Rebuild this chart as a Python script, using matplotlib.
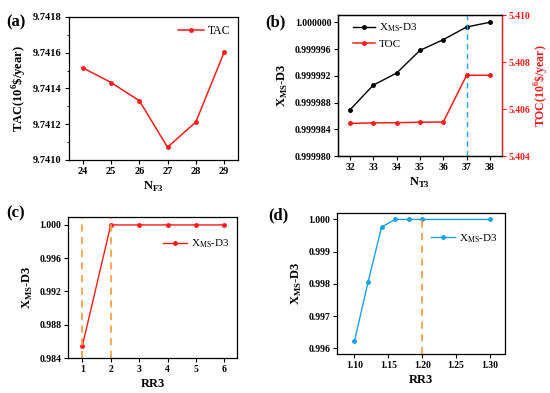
import numpy as np
import matplotlib
matplotlib.use("Agg")
import matplotlib.pyplot as plt
from matplotlib.ticker import MultipleLocator, FormatStrFormatter

plt.rcParams["font.family"] = ["Liberation Serif", "DejaVu Serif"]
plt.rcParams["font.weight"] = "bold"
plt.rcParams["axes.labelweight"] = "bold"
plt.rcParams["axes.linewidth"] = 0.9

RED = "#FF1A1A"
BLUE = "#1BA1E8"
ORANGE = "#F7A24A"

# (a)
nf3 = [24, 25, 26, 27, 28, 29]
tac = [9.741515, 9.741433, 9.741331, 9.741071, 9.741212, 9.741601]

# (b)
nt3 = [32, 33, 34, 35, 36, 37, 38]
xms_b = [0.9999869, 0.9999906, 0.9999924, 0.9999958, 0.9999974, 0.9999993, 1.0]
toc = [5.40539, 5.40541, 5.40542, 5.40544, 5.40545, 5.40744, 5.40744]

# (c)
rr3_c = [1, 2, 3, 4, 5, 6]
xms_c = [0.98548, 1.0, 1.0, 1.0, 1.0, 1.0]

# (d)
rr3_d = [1.10, 1.12, 1.14, 1.16, 1.18, 1.20, 1.30]
xms_d = [0.996217, 0.998047, 0.999762, 1.0, 1.0, 1.0, 1.0]

fig = plt.figure(figsize=(5.5, 3.93), dpi=100)
ax_a = fig.add_axes([0.125, 0.593, 0.308, 0.364])
ax_b = fig.add_axes([0.615, 0.603, 0.297, 0.359])
ax_c = fig.add_axes([0.124, 0.089, 0.307, 0.359])
ax_d = fig.add_axes([0.613, 0.099, 0.305, 0.359])

label_fs = 9
leg_prop = {"weight": "normal", "size": 8}


def style(ax, size=7.5):
    ax.tick_params(direction="out", length=3, width=0.8, labelsize=size, pad=2)
    ax.tick_params(which="minor", direction="out", length=1.8, width=0.6)
    for lab in ax.get_xticklabels() + ax.get_yticklabels():
        lab.set_fontweight("bold")


# panel (a)
ax_a.plot(nf3, tac, color=RED, marker="o", ms=2.5, lw=1.1, label="TAC")
ax_a.set_xlim(23.5, 29.5)
ax_a.set_ylim(9.7410, 9.7418)
ax_a.yaxis.set_major_locator(MultipleLocator(0.0002))
ax_a.yaxis.set_minor_locator(MultipleLocator(0.0001))
ax_a.yaxis.set_major_formatter(FormatStrFormatter("%.4f"))
ax_a.set_xticks(nf3)
ax_a.set_xlabel(r"N$_{\mathregular{F3}}$", fontsize=label_fs, labelpad=3)
ax_a.set_ylabel(r"TAC(10$^{\mathregular{6}}$\$/year)", fontsize=label_fs, labelpad=3)
ax_a.legend(loc="upper right", frameon=False, prop={"weight": "normal", "size": 8.5},
            handlelength=2.2, borderaxespad=0.3, handletextpad=0.3)
style(ax_a, 7.5)

# panel (b)
ax_b.plot(nt3, xms_b, color="black", marker="o", ms=2.5, lw=1.0,
          label=r"X$_{\mathregular{MS}}$-D3")
ax_b.set_xlim(31.5, 38.5)
ax_b.set_ylim(0.999980, 1.0000011)
ax_b.yaxis.set_major_locator(MultipleLocator(0.000004))
ax_b.yaxis.set_major_formatter(FormatStrFormatter("%.6f"))
ax_b.set_xticks(nt3)
ax_b.axvline(37, color=BLUE, ls=(0, (4, 3)), lw=1.0)
ax_b.set_xlabel(r"N$_{\mathregular{T3}}$", fontsize=label_fs, labelpad=3)
ax_b.set_ylabel(r"X$_{\mathregular{MS}}$-D3", fontsize=label_fs, labelpad=3)
style(ax_b, 7)

ax_b2 = ax_b.twinx()
ax_b2.plot(nt3, toc, color=RED, marker="o", ms=2.5, lw=1.1, label="TOC")
ax_b2.set_ylim(5.404, 5.41001)
ax_b2.yaxis.set_major_locator(MultipleLocator(0.002))
ax_b2.yaxis.set_major_formatter(FormatStrFormatter("%.3f"))
ax_b2.spines["right"].set_color(RED)
ax_b2.tick_params(axis="y", colors=RED, direction="out", length=3, width=0.8,
                  labelsize=7, pad=2)
for lab in ax_b2.get_yticklabels():
    lab.set_fontweight("bold")
ax_b2.set_ylabel(r"TOC(10$^{\mathregular{6}}$\$/year)", color=RED,
                 fontsize=8.5, labelpad=2)
h1, l1 = ax_b.get_legend_handles_labels()
h2, l2 = ax_b2.get_legend_handles_labels()
ax_b.legend(h1 + h2, l1 + l2, loc="upper left", frameon=False, prop=leg_prop,
            handlelength=2.0, handletextpad=0.3, labelspacing=0.4,
            borderaxespad=0.2, bbox_to_anchor=(0.05, 1.0))

# panel (c)
ax_c.plot(rr3_c, xms_c, color=RED, marker="o", ms=2.5, lw=1.0,
          label=r"X$_{\mathregular{MS}}$-D3")
for xv in (1, 2):
    ax_c.axvline(xv, color=ORANGE, ls=(0, (4, 3)), lw=1.3)
ax_c.set_xlim(0.5, 6.45)
ax_c.set_ylim(0.984, 1.00096)
ax_c.yaxis.set_major_locator(MultipleLocator(0.004))
ax_c.yaxis.set_major_formatter(FormatStrFormatter("%.3f"))
ax_c.set_xticks(rr3_c)
ax_c.set_xlabel("RR3", fontsize=label_fs, labelpad=3)
ax_c.set_ylabel(r"X$_{\mathregular{MS}}$-D3", fontsize=label_fs, labelpad=3)
ax_c.legend(loc="upper right", frameon=False, prop=leg_prop, handlelength=2.2,
            handletextpad=0.3, borderaxespad=0.3, bbox_to_anchor=(1.0, 0.91))
style(ax_c, 7)

# panel (d)
ax_d.plot(rr3_d, xms_d, color=BLUE, marker="o", ms=2.5, lw=1.0,
          label=r"X$_{\mathregular{MS}}$-D3")
ax_d.axvline(1.20, color=ORANGE, ls=(0, (4, 3)), lw=1.3)
ax_d.set_xlim(1.0745, 1.322)
ax_d.set_ylim(0.99582, 1.0002)
ax_d.yaxis.set_major_locator(MultipleLocator(0.001))
ax_d.yaxis.set_major_formatter(FormatStrFormatter("%.3f"))
ax_d.set_xticks([1.10, 1.15, 1.20, 1.25, 1.30])
ax_d.xaxis.set_major_formatter(FormatStrFormatter("%.2f"))
ax_d.set_xlabel("RR3", fontsize=label_fs, labelpad=3)
ax_d.set_ylabel(r"X$_{\mathregular{MS}}$-D3", fontsize=label_fs, labelpad=3)
ax_d.legend(loc="upper right", frameon=False, prop=leg_prop, handlelength=2.2,
            handletextpad=0.3, borderaxespad=0.3, bbox_to_anchor=(1.0, 0.92))
style(ax_d, 7)

# panel letters
for x, y, s in [(0.012, 0.942, "(a)"), (0.483, 0.944, "(b)"),
                (0.012, 0.458, "(c)"), (0.487, 0.453, "(d)")]:
    fig.text(x, y, s, fontsize=12, fontweight="bold", va="center")

fig.savefig("out.png", dpi=100)
